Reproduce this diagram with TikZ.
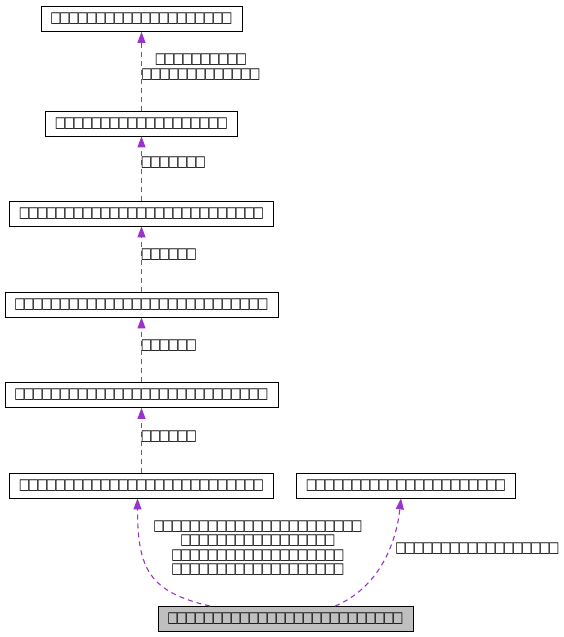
\documentclass[tikz,border=0pt]{standalone}
\usepackage{fontspec}
\setmainfont{DejaVu Sans}
\usetikzlibrary{arrows.meta, positioning}
\definecolor{edgepurple}{HTML}{9A32CD}
\definecolor{nodegray}{HTML}{BFBFBF}
\newlength\tofupitch
\setlength\tofupitch{9pt}
\newcommand\tofu[1]{\foreach \k in {1,...,#1}{\makebox[\tofupitch]{\scalebox{0.78}[1]{□}}}}
\tikzstyle{cls} = [draw=black, line width=0.8pt, fill=white, minimum height=25pt, inner xsep=10.5pt, inner ysep=0pt, font=\fontsize{15}{16}\selectfont]
\tikzstyle{usage} = [draw=edgepurple, line width=1.1pt, dash pattern=on 5pt off 4pt, -{Triangle[length=11pt,width=8pt,fill=edgepurple]}]
\tikzstyle{lbl} = [font=\fontsize{15}{14.5}\selectfont, align=center, inner sep=0pt]

\begin{document}
\begin{tikzpicture}[x=1pt, y=-1pt]
\useasboundingbox (0,0) rectangle (563,637);

% Class chain
\node[cls] (root) at (141.5,19) {\tofu{20}};
\node[cls] (lvlb) at (141.5,123.5) {\tofu{19}};
\node[cls] (lvlc) at (141.5,213.5) {\tofu{27}};
\node[cls] (lvld) at (141.5,304.5) {\tofu{28}};
\node[cls] (lvle) at (141.5,395) {\tofu{28}};
\node[cls] (lvlf) at (141.5,485.5) {\tofu{27}};
\node[cls] (side) at (406,485.5) {\tofu{22}};
\node[cls, fill=nodegray] (leaf) at (285.5,619) {\tofu{26}};

% Edges
\draw[usage] (lvlb) -- (root);
\draw[usage] (lvlc) -- (lvlb);
\draw[usage] (lvld) -- (lvlc);
\draw[usage] (lvle) -- (lvld);
\draw[usage] (lvlf) -- (lvle);
\draw[usage] (leaf.north -| 210,0) .. controls (150,592) and (137.5,570) .. (lvlf.south -| 137.5,0);
\draw[usage] (leaf.north -| 335,0) .. controls (378,588) and (396,545) .. (lvlf.south -| 401,0);

% Edge labels
\node[lbl] (lab1) at (201,67) {\tofu{10}\\\tofu{13}};
\node[lbl] (lab2) at (173.5,163) {\tofu{7}};
\node[lbl] (lab3) at (169,255) {\tofu{6}};
\node[lbl] (lab4) at (169,346) {\tofu{6}};
\node[lbl] (lab5) at (169,437) {\tofu{6}};
\node[lbl] (lab6) at (258,548) {\tofu{23}\\\tofu{17}\\\tofu{19}\\\tofu{19}};
\node[lbl] (lab7) at (477.5,549) {\tofu{18}};
\end{tikzpicture}
\end{document}
